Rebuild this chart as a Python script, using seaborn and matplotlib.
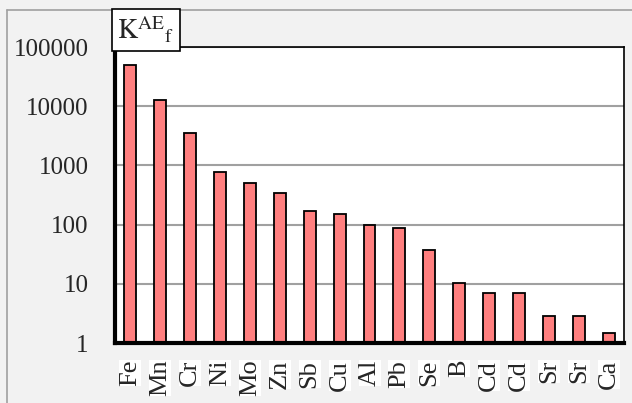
import numpy as np
import pandas as pd
import matplotlib
matplotlib.use("Agg")
import matplotlib.pyplot as plt
import seaborn as sns

# data
elements = ["Fe", "Mn", "Cr", "Ni", "Mo", "Zn", "Sb", "Cu", "Al",
            "Pb", "Se", "B", "Cd", "Cd", "Sr", "Sr", "Ca"]
k_values = [50000, 12600, 3500, 760, 500, 340, 170, 150, 97,
            87, 37, 10.5, 7, 7, 2.85, 2.85, 1.5]
y_ticks = [1, 10, 100, 1000, 10000, 100000]

df = pd.DataFrame({"pos": np.arange(len(elements)), "K": k_values})

sns.set_style("white")
plt.rcParams["font.family"] = ["Liberation Serif", "DejaVu Serif"]
plt.rcParams["mathtext.fontset"] = "stix"

fig = plt.figure(figsize=(6.32, 4.03), dpi=100)
fig.patch.set_facecolor("#f2f2f2")
ax = fig.add_axes([115 / 632, 1 - 343 / 403, 509 / 632, 296 / 403])
ax.set_facecolor("white")

sns.barplot(data=df, x="pos", y="K", ax=ax, color="#ff7f7f",
            saturation=1, width=0.4, edgecolor="black", linewidth=1.3)
ax.set_yscale("log")

ax.set_ylim(1, 100000)
ax.set_xlim(-0.5, len(elements) - 0.5)
ax.set_yticks(y_ticks)
ax.set_yticklabels([str(v) for v in y_ticks], fontsize=18)
ax.yaxis.set_minor_locator(matplotlib.ticker.NullLocator())
ax.grid(axis="y", color="#a0a0a0", linewidth=1.5)
ax.set_axisbelow(True)

# x ticks sit between categories, labels at the centres
ax.set_xticks(np.arange(len(elements) + 1) - 0.5)
ax.set_xticklabels([])
ax.set_xticks(np.arange(len(elements)), minor=True)
ax.set_xticklabels(elements, minor=True, rotation=90, fontsize=19,
                   va="top", ha="center")
for lab in ax.get_xticklabels(minor=True):
    lab.set_bbox(dict(facecolor="white", edgecolor="none", pad=0))
ax.tick_params(axis="x", which="major", direction="out", length=5,
               width=3, color="black")
ax.tick_params(axis="x", which="minor", length=0, pad=12)
ax.tick_params(axis="y", which="major", direction="out", length=5,
               width=3, color="black", pad=14)

ax.set_xlabel("")
ax.set_ylabel("")

for side in ["left", "bottom"]:
    ax.spines[side].set_linewidth(3)
for side in ["top", "right"]:
    ax.spines[side].set_linewidth(1.2)
for sp in ax.spines.values():
    sp.set_color("black")
    sp.set_visible(True)

# title in a box at the top-left
fig.text(146 / 632, 1 - 30 / 403, r"$\mathrm{K}^{\mathrm{AE}}{}_{\mathrm{f}}$",
         fontsize=20, ha="center", va="center",
         bbox=dict(facecolor="white", edgecolor="black", linewidth=1.2,
                   boxstyle="square,pad=0.2"))

# outer frame lines of the chart area
fig.add_artist(plt.Line2D([7 / 632, 7 / 632], [0, 1 - 10 / 403],
                          color="#a0a0a0", linewidth=1.2))
fig.add_artist(plt.Line2D([7 / 632, 1], [1 - 10 / 403, 1 - 10 / 403],
                          color="#a0a0a0", linewidth=1.2))

fig.savefig("out.png", dpi=100, facecolor=fig.get_facecolor())
